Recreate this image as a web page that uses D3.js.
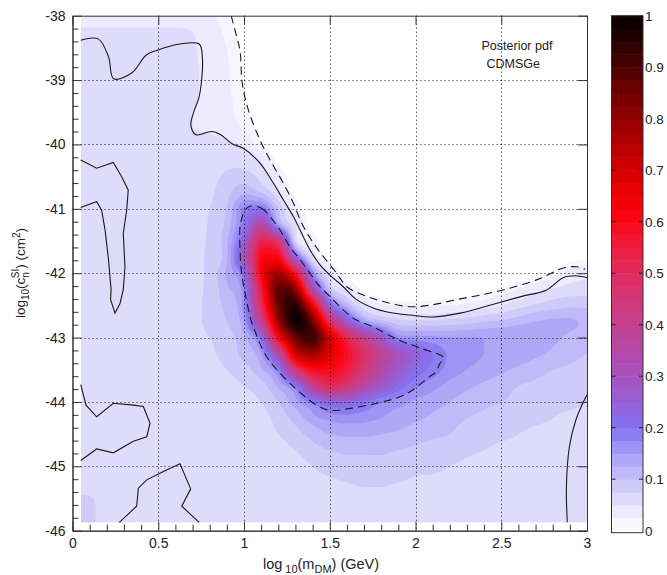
<!DOCTYPE html>
<html><head><meta charset="utf-8">
<script src="https://cdn.jsdelivr.net/npm/d3@7"></script>
<style>
body{margin:0;background:#fff}
svg{display:block}
text{font-family:"Liberation Sans",Arial,sans-serif;fill:#222}
</style>
</head><body>
<svg id="chart" width="667" height="575"></svg>
<script>
// ---------- data ----------
const xTicks = [0, 0.5, 1, 1.5, 2, 2.5, 3];
const xTickLabels = ["0", "0.5", "1", "1.5", "2", "2.5", "3"];
const xMinorTicks = [0.1,0.2,0.3,0.4,0.6,0.7,0.8,0.9,1.1,1.2,1.3,1.4,1.6,1.7,1.8,1.9,2.1,2.2,2.3,2.4,2.6,2.7,2.8,2.9];
const yTicks = [-38, -39, -40, -41, -42, -43, -44, -45, -46];
const yTickLabels = ["-38", "-39", "-40", "-41", "-42", "-43", "-44", "-45", "-46"];
const yMinorTicks = [-38.2,-38.4,-38.6,-38.8,-39.2,-39.4,-39.6,-39.8,-40.2,-40.4,-40.6,-40.8,-41.2,-41.4,-41.6,-41.8,-42.2,-42.4,-42.6,-42.8,-43.2,-43.4,-43.6,-43.8,-44.2,-44.4,-44.6,-44.8,-45.2,-45.4,-45.6,-45.8];
const xGridLines = [0.5, 1, 1.5, 2, 2.5];
const yGridLines = [-39, -40, -41, -42, -43, -44, -45];
const cbTicks = [0, 0.1, 0.2, 0.3, 0.4, 0.5, 0.6, 0.7, 0.8, 0.9, 1];
const cbTickLabels = ["0", "0.1", "0.2", "0.3", "0.4", "0.5", "0.6", "0.7", "0.8", "0.9", "1"];
const legendLines = ["Posterior pdf", "CDMSGe"];

// colour map stops (value, colour)
const cmapValues = [0, 0.05, 0.1, 0.15, 0.2, 0.25, 0.3, 0.35, 0.4, 0.45, 0.5, 0.55, 0.6, 0.65, 0.7, 0.75, 0.8, 0.85, 0.9, 0.95, 1];
const cmapColors = ["#ffffff","#e6e3fb","#c9c2f8","#a89ef6","#8472f2","#9660d6","#a652be","#b548a6","#c4408e","#d23878","#e02c60","#ee1c3e","#fc0818","#f00000","#d40000","#b40000","#940000","#700000","#4c0000","#280000","#050000"];

// posterior pdf read on a grid: columns = gridX, rows = gridY
const gridX = [0,0.1,0.2,0.3,0.4,0.5,0.6,0.7,0.8,0.9,1,1.1,1.2,1.3,1.4,1.5,1.6,1.7,1.8,1.9,2,2.1,2.2,2.3,2.4,2.5,2.6,2.7,2.8,2.9,3];
const gridY = [-38,-38.25,-38.5,-38.75,-39,-39.25,-39.5,-39.75,-40,-40.25,-40.5,-40.75,-41,-41.25,-41.5,-41.75,-42,-42.25,-42.5,-42.75,-43,-43.25,-43.5,-43.75,-44,-44.25,-44.5,-44.75,-45,-45.25,-45.5,-45.75,-46];
const pdfRows = [
[.04,.04,.04,.04,.04,.04,.04,.038,.03,.015, 0,0,0,0,0,0,0,0,0,0, 0,0,0,0,0,0,0,0,0,0, 0],
[.053,.053,.053,.053,.053,.053,.053,.05,.038,.02, .004,0,0,0,0,0,0,0,0,0, 0,0,0,0,0,0,0,0,0,0, 0],
[.055,.055,.055,.055,.055,.055,.055,.052,.04,.025, .008,0,0,0,0,0,0,0,0,0, 0,0,0,0,0,0,0,0,0,0, 0],
[.055,.055,.055,.055,.055,.055,.055,.053,.042,.027, .009,0,0,0,0,0,0,0,0,0, 0,0,0,0,0,0,0,0,0,0, 0],
[.055,.055,.055,.055,.055,.055,.055,.053,.043,.028, .01,0,0,0,0,0,0,0,0,0, 0,0,0,0,0,0,0,0,0,0, 0],
[.055,.055,.055,.055,.055,.055,.055,.052,.044,.03, .013,.002,0,0,0,0,0,0,0,0, 0,0,0,0,0,0,0,0,0,0, 0],
[.055,.055,.055,.055,.055,.055,.055,.05,.045,.032, .016,.004,0,0,0,0,0,0,0,0, 0,0,0,0,0,0,0,0,0,0, 0],
[.055,.055,.055,.055,.055,.055,.055,.05,.047,.038, .022,.008,0,0,0,0,0,0,0,0, 0,0,0,0,0,0,0,0,0,0, 0],
[.055,.055,.055,.055,.055,.055,.055,.056,.057,.056, .045,.012,.002,0,0,0,0,0,0,0, 0,0,0,0,0,0,0,0,0,0, 0],
[.055,.055,.055,.055,.055,.055,.055,.057,.062,.068, .062,.048,.004,0,0,0,0,0,0,0, 0,0,0,0,0,0,0,0,0,0, 0],
[.055,.055,.055,.055,.055,.055,.055,.058,.066,.08, .088,.065,.03,0,0,0,0,0,0,0, 0,0,0,0,0,0,0,0,0,0, 0],
[.055,.055,.055,.055,.055,.055,.055,.06,.07,.092, .12,.1,.055,.005,0,0,0,0,0,0, 0,0,0,0,0,0,0,0,0,0, 0],
[.055,.055,.055,.055,.055,.055,.057,.062,.075,.1, .18,.2,.1,.03,0,0,0,0,0,0, 0,0,0,0,0,0,0,0,0,0, 0],
[.055,.055,.055,.055,.055,.055,.057,.064,.078,.11, .2,.35,.15,.055,.005,0,0,0,0,0, 0,0,0,0,0,0,0,0,0,0, 0],
[.055,.055,.055,.055,.055,.055,.058,.065,.08,.12, .25,.52,.45,.07,.025,0,0,0,0,0, 0,0,0,0,0,0,0,0,0,0, 0],
[.055,.055,.055,.055,.055,.055,.058,.066,.082,.12, .3,.6,.62,.25,.055,.005,0,0,0,0, 0,0,0,0,0,0,0,0,0,.004, .008],
[.055,.055,.055,.055,.055,.055,.058,.066,.083,.13, .22,.62,.76,.58,.18,.05,.005,0,0,0, 0,0,0,0,0,0,0,.005,.015,.035, .042],
[.055,.055,.055,.055,.055,.055,.058,.066,.083,.12, .18,.55,.88,.8,.35,.1,.045,.005,0,0, 0,0,0,.003,.008,.015,.025,.04,.052,.06, .062],
[.055,.055,.055,.055,.055,.055,.058,.066,.085,.11, .17,.5,.85,.95,.65,.25,.12,.058,.03,.022, .02,.022,.026,.03,.038,.05,.065,.078,.088,.095, .095],
[.055,.055,.055,.055,.055,.055,.058,.064,.085,.1, .15,.4,.78,.99,.85,.5,.28,.15,.11,.085, .08,.08,.085,.09,.1,.105,.115,.125,.13,.13, .12],
[.055,.055,.055,.055,.055,.055,.057,.062,.075,.09, .12,.22,.6,.85,.92,.7,.52,.4,.28,.17, .16,.155,.15,.15,.15,.15,.15,.14,.13,.12, .11],
[.055,.055,.055,.055,.055,.055,.056,.06,.07,.085, .11,.15,.35,.7,.78,.68,.58,.48,.38,.3, .24,.2,.17,.16,.15,.145,.14,.13,.12,.11, .1],
[.055,.055,.055,.055,.055,.055,.055,.058,.065,.075, .09,.12,.19,.45,.6,.6,.55,.45,.35,.27, .22,.19,.165,.15,.14,.13,.12,.11,.1,.095, .09],
[.055,.055,.055,.055,.055,.055,.055,.055,.06,.065, .075,.09,.13,.2,.4,.5,.45,.35,.28,.22, .18,.16,.14,.13,.12,.11,.1,.095,.09,.085, .08],
[.055,.055,.055,.055,.055,.055,.055,.055,.055,.058, .065,.075,.1,.14,.19,.24,.24,.21,.175,.16, .145,.135,.125,.115,.105,.1,.095,.09,.085,.08, .075],
[.055,.055,.055,.055,.055,.055,.055,.055,.055,.055, .056,.065,.085,.11,.14,.16,.165,.16,.15,.14, .13,.12,.11,.1,.095,.09,.085,.08,.075,.07, .07],
[.055,.055,.055,.055,.055,.055,.055,.055,.055,.055, .055,.06,.075,.09,.11,.125,.13,.13,.125,.12, .11,.105,.1,.09,.085,.08,.075,.07,.07,.065, .065],
[.055,.055,.055,.055,.055,.055,.055,.055,.055,.055, .055,.056,.065,.075,.09,.1,.105,.105,.105,.1, .095,.09,.085,.08,.075,.07,.07,.065,.065,.06, .06],
[.055,.055,.055,.055,.055,.055,.055,.055,.055,.055, .055,.055,.058,.065,.075,.085,.09,.09,.09,.085, .08,.08,.075,.07,.065,.065,.06,.06,.06,.058, .058],
[.055,.055,.055,.055,.055,.055,.055,.055,.055,.055, .055,.055,.055,.058,.065,.07,.075,.078,.078,.075, .072,.07,.068,.065,.062,.058,.058,.058,.058,.058, .058],
[.08,.078,.062,.055,.055,.055,.055,.055,.055,.055, .055,.055,.055,.055,.055,.06,.065,.068,.068,.066, .064,.062,.06,.056,.056,.056,.056,.056,.056,.056, .056],
[.082,.08,.064,.055,.055,.055,.055,.055,.055,.055, .055,.055,.055,.055,.055,.055,.06,.06,.06,.058, .055,.055,.055,.055,.055,.055,.055,.055,.055,.055, .055],
[.082,.08,.064,.055,.055,.055,.055,.055,.055,.055, .055,.055,.055,.055,.055,.055,.06,.06,.06,.058, .055,.055,.055,.055,.055,.055,.055,.055,.055,.055, .055]
];
// data extent of the coloured field
const fieldX = [0.05, 3];
const fieldY = [-45.87, -38];

// credible-region contour lines [log10 m, log10 sigma]
const solidUpper = [[0.048,-38.38],[0.15,-38.36],[0.21,-38.64],[0.24,-38.98],[0.345,-38.89],[0.43,-38.61],[0.49,-38.54],[0.627,-38.44],[0.739,-38.44],[0.757,-38.64],[0.753,-39.0],[0.738,-39.26],[0.704,-39.52],[0.69,-39.7],[0.72,-39.85],[0.81,-39.8],[0.86,-39.84],[0.93,-39.99],[0.996,-40.06],[1.093,-40.29],[1.171,-40.6],[1.229,-40.86],[1.288,-41.12],[1.336,-41.38],[1.385,-41.64],[1.443,-41.87],[1.501,-42.03],[1.579,-42.21],[1.657,-42.41],[1.754,-42.54],[1.851,-42.61],[1.968,-42.65],[2.104,-42.68],[2.26,-42.62],[2.47,-42.47],[2.62,-42.36],[2.765,-42.26],[2.86,-42.07],[2.93,-42.04],[3.0,-42.07]];
const solidLeftMid = [[0.048,-40.24],[0.141,-40.37],[0.238,-40.28],[0.287,-40.5],[0.325,-40.71],[0.316,-41.02],[0.296,-41.38],[0.306,-41.9],[0.296,-42.26],[0.277,-42.47],[0.248,-42.62],[0.222,-42.41],[0.225,-42.26],[0.21,-41.79],[0.19,-41.33],[0.17,-41.02],[0.141,-40.89],[0.054,-40.97],[0.048,-40.98]];
const solidLeftLow = [[0.048,-43.73],[0.079,-44.05],[0.141,-44.23],[0.238,-44.02],[0.355,-44.05],[0.413,-44.07],[0.452,-44.33],[0.433,-44.54],[0.355,-44.61],[0.238,-44.79],[0.141,-44.73],[0.048,-44.91]];
const solidBottom = [[0.273,-45.87],[0.374,-45.62],[0.384,-45.34],[0.433,-45.21],[0.53,-45.08],[0.627,-44.96],[0.689,-45.35],[0.637,-45.62],[0.739,-45.87]];
const solidRight = [[2.885,-45.87],[2.88,-45.33],[2.897,-44.7],[2.935,-44.28],[2.97,-44.05],[3.0,-43.89]];
const dashedOuter = [[0.925,-38.0],[0.955,-38.3],[0.977,-38.55],[0.99,-39.05],[1.025,-39.46],[1.093,-39.93],[1.152,-40.24],[1.229,-40.6],[1.288,-40.91],[1.336,-41.22],[1.404,-41.53],[1.462,-41.74],[1.54,-42.0],[1.599,-42.21],[1.696,-42.34],[1.812,-42.44],[1.968,-42.52],[2.1,-42.49],[2.24,-42.41],[2.376,-42.34],[2.51,-42.26],[2.71,-42.1],[2.862,-41.92],[2.94,-41.9],[2.99,-41.94]];
const dashedInner = [[1.035,-40.96],[1.103,-40.99],[1.152,-41.12],[1.21,-41.33],[1.268,-41.59],[1.327,-41.79],[1.385,-42.0],[1.443,-42.21],[1.501,-42.36],[1.579,-42.57],[1.65,-42.72],[1.75,-42.83],[1.905,-43.04],[2.026,-43.16],[2.162,-43.31],[2.143,-43.4],[2.114,-43.55],[2.085,-43.6],[1.987,-43.81],[1.91,-43.92],[1.79,-44.01],[1.62,-44.1],[1.5,-44.13],[1.424,-44.05],[1.33,-43.86],[1.23,-43.61],[1.13,-43.29],[1.054,-42.83],[1.035,-42.67],[1.006,-42.31],[0.986,-42.0],[0.977,-41.64],[0.977,-41.28],[0.996,-41.07],[1.006,-41.02]];

// ---------- drawing ----------
const svg = d3.select("#chart");
const x = d3.scaleLinear().domain([0, 3]).range([72.5, 587]);
const y = d3.scaleLinear().domain([-46, -38]).range([530.7, 15.7]);
const cbY = d3.scaleLinear().domain([0, 1]).range([530.7, 15.7]);
const cmap = d3.scaleLinear().domain(cmapValues).range(cmapColors).interpolate(d3.interpolateRgb).clamp(true);

const defs = svg.append("defs");
defs.append("clipPath").attr("id", "fieldClip").append("rect")
  .attr("x", x(fieldX[0])).attr("y", y(fieldY[1]))
  .attr("width", x(fieldX[1]) - x(fieldX[0])).attr("height", y(fieldY[0]) - y(fieldY[1]));
defs.append("clipPath").attr("id", "plotClip").append("rect")
  .attr("x", x(0)).attr("y", y(-38)).attr("width", x(3) - x(0)).attr("height", y(-46) - y(-38));

// smooth resampling of the read grid for the filled contour plot
const NX = gridX.length, NY = gridY.length;
const gdx = gridX[1] - gridX[0], gdy = gridY[0] - gridY[1];
function cr(p0, p1, p2, p3, t) {
  const v = 0.5 * ((2 * p1) + (-p0 + p2) * t + (2 * p0 - 5 * p1 + 4 * p2 - p3) * t * t + (-p0 + 3 * p1 - 3 * p2 + p3) * t * t * t);
  return Math.max(Math.min(p1, p2), Math.min(Math.max(p1, p2), v));
}
const ci = (i, n) => Math.max(0, Math.min(n - 1, i));
function sample(u, v) {
  const i = Math.floor(u), j = Math.floor(v), tu = u - i, tv = v - j;
  const col = [];
  for (let m = -1; m <= 2; m++) {
    const r = pdfRows[ci(j + m, NY)];
    col.push(cr(r[ci(i - 1, NX)], r[ci(i, NX)], r[ci(i + 1, NX)], r[ci(i + 2, NX)], tu));
  }
  return cr(col[0], col[1], col[2], col[3], tv);
}
const fdx = 0.02, fdy = 0.05;
const FX = Math.round((gridX[NX - 1] - gridX[0]) / fdx) + 1;
const FY = Math.round((gridY[0] - gridY[NY - 1]) / fdy) + 1;
const fine = new Float64Array(FX * FY);
for (let j = 0; j < FY; j++) {
  for (let i = 0; i < FX; i++) {
    fine[j * FX + i] = sample(i * fdx / gdx, j * fdy / gdy);
  }
}
const bandStep = 0.025;
const thresholds = [0.012].concat(d3.range(1, 40).map(k => k * bandStep));
const contours = d3.contours().size([FX, FY]).thresholds(thresholds)(fine);
const proj = d3.geoTransform({
  point: function (px, py) {
    this.stream.point(x(gridX[0] + (px - 0.5) * fdx), y(gridY[0] - (py - 0.5) * fdy));
  }
});
const gpath = d3.geoPath(proj);
svg.append("g").attr("clip-path", "url(#fieldClip)")
  .selectAll("path").data(contours).join("path")
  .attr("d", gpath)
  .attr("fill", (d, k) => {
    const lo = thresholds[k], hi = k + 1 < thresholds.length ? thresholds[k + 1] : 1;
    return cmap((lo + hi) / 2);
  })
  .attr("stroke", "none");

// dotted grid
const grid = svg.append("g").attr("stroke", "#111").attr("stroke-width", 1).attr("stroke-dasharray", "1,3");
grid.selectAll(".gx").data(xGridLines).join("line")
  .attr("x1", d => Math.round(x(d)) + 0.5).attr("x2", d => Math.round(x(d)) + 0.5)
  .attr("y1", y(-38)).attr("y2", y(-46));
grid.selectAll(".gy").data(yGridLines).join("line")
  .attr("y1", d => Math.round(y(d)) + 0.5).attr("y2", d => Math.round(y(d)) + 0.5)
  .attr("x1", x(0)).attr("x2", x(3));

// contour lines
const lineGen = d3.line().x(d => x(d[0])).y(d => y(d[1]));
const lines = svg.append("g").attr("clip-path", "url(#plotClip)").attr("fill", "none").attr("stroke", "#1a1a1a").attr("stroke-width", 1.1);
lines.append("path").attr("d", lineGen.curve(d3.curveCatmullRom.alpha(0.5))(solidUpper));
lines.append("path").attr("d", lineGen.curve(d3.curveLinear)(solidLeftMid));
lines.append("path").attr("d", lineGen.curve(d3.curveLinear)(solidLeftLow));
lines.append("path").attr("d", lineGen.curve(d3.curveLinear)(solidBottom));
lines.append("path").attr("d", lineGen.curve(d3.curveCatmullRom.alpha(0.5))(solidRight));
lines.append("path").attr("d", lineGen.curve(d3.curveCatmullRom.alpha(0.5))(dashedOuter)).attr("stroke-dasharray", "8,5");
lines.append("path").attr("d", lineGen.curve(d3.curveCatmullRomClosed.alpha(0.5))(dashedInner)).attr("stroke-dasharray", "8,5");

// axes
function styleAxis(g) {
  g.selectAll("path.domain").attr("stroke", "#333");
  g.selectAll(".tick line").attr("stroke", "#333");
  g.selectAll("text").attr("font-size", 14).attr("fill", "#222").attr("font-family", '"Liberation Sans", Arial, sans-serif');
}
svg.append("g").attr("transform", `translate(0,${y(-46)})`)
  .call(d3.axisBottom(x).tickValues(xTicks).tickFormat((d, i) => xTickLabels[i]).tickSizeInner(-9).tickSizeOuter(0).tickPadding(7))
  .call(styleAxis);
svg.append("g").attr("transform", `translate(0,${y(-46)})`)
  .call(d3.axisBottom(x).tickValues(xMinorTicks).tickFormat("").tickSizeInner(-6).tickSizeOuter(0))
  .call(styleAxis);
svg.append("g").attr("transform", `translate(0,${y(-38)})`)
  .call(d3.axisTop(x).tickValues(xTicks).tickFormat("").tickSizeInner(-9).tickSizeOuter(0))
  .call(styleAxis);
svg.append("g").attr("transform", `translate(${x(0)},0)`)
  .call(d3.axisLeft(y).tickValues(yTicks).tickFormat((d, i) => yTickLabels[i]).tickSizeInner(-9).tickSizeOuter(0).tickPadding(7))
  .call(styleAxis);
svg.append("g").attr("transform", `translate(${x(0)},0)`)
  .call(d3.axisLeft(y).tickValues(yMinorTicks).tickFormat("").tickSizeInner(-6).tickSizeOuter(0))
  .call(styleAxis);
svg.append("g").attr("transform", `translate(${x(3)},0)`)
  .call(d3.axisRight(y).tickValues(yTicks).tickFormat("").tickSizeInner(-9).tickSizeOuter(0))
  .call(styleAxis);

// axis titles
const xl = svg.append("text").attr("x", 321).attr("y", 569).attr("text-anchor", "middle").attr("font-size", 14.5);
xl.append("tspan").text("log");
xl.append("tspan").attr("dy", 4).attr("font-size", 11).attr("dx", 3).text("10");
xl.append("tspan").attr("dy", -4).text("(m");
xl.append("tspan").attr("dy", 4).attr("font-size", 11).text("DM");
xl.append("tspan").attr("dy", -4).text(") (GeV)");

const yl = svg.append("text").attr("transform", "translate(25,273) rotate(-90)").attr("text-anchor", "middle").attr("font-size", 13.5);
yl.append("tspan").text("log");
yl.append("tspan").attr("dy", 4).attr("font-size", 10).text("10");
yl.append("tspan").attr("dy", -4).text("(c");
yl.append("tspan").attr("dy", 4).attr("font-size", 10).text("n");
yl.append("tspan").attr("dy", -10).attr("dx", -6).attr("font-size", 10).text("SI");
yl.append("tspan").attr("dy", 6).text(") (cm");
yl.append("tspan").attr("dy", -5).attr("font-size", 10).text("2");
yl.append("tspan").attr("dy", 5).text(")");

// legend text
svg.selectAll(".leg").data(legendLines).join("text")
  .attr("x", (d, i) => i === 0 ? 481.5 : 486.5).attr("y", (d, i) => 49.5 + i * 18)
  .attr("font-size", 12.5).attr("fill", "#222").text(d => d);

// colour bar
const cbX0 = 611.5, cbX1 = 643;
const cbBands = d3.range(0, 40).map(k => [k * bandStep, (k + 1) * bandStep]);
svg.append("g").selectAll("rect").data(cbBands).join("rect")
  .attr("x", cbX0).attr("width", cbX1 - cbX0)
  .attr("y", d => cbY(d[1])).attr("height", d => cbY(d[0]) - cbY(d[1]) + 0.5)
  .attr("fill", d => cmap((d[0] + d[1]) / 2));
svg.append("rect").attr("x", cbX0).attr("y", cbY(1)).attr("width", cbX1 - cbX0).attr("height", cbY(0) - cbY(1) + 2)
  .attr("fill", "none").attr("stroke", "#333").attr("stroke-width", 1);
const cbTickG = svg.append("g").attr("stroke", "#222");
cbTickG.selectAll(".tl").data(cbTicks.slice(1, -1)).join("line")
  .attr("x1", cbX0).attr("x2", cbX0 + 4).attr("y1", d => cbY(d)).attr("y2", d => cbY(d));
cbTickG.selectAll(".tr").data(cbTicks.slice(1, -1)).join("line")
  .attr("x1", cbX1 - 4).attr("x2", cbX1).attr("y1", d => cbY(d)).attr("y2", d => cbY(d));
svg.append("g").selectAll("text").data(cbTicks).join("text")
  .attr("x", 645).attr("y", d => cbY(d)).attr("dy", "0.36em")
  .attr("font-size", 13.5).attr("fill", "#222")
  .text((d, i) => cbTickLabels[i]);
</script>
</body></html>
